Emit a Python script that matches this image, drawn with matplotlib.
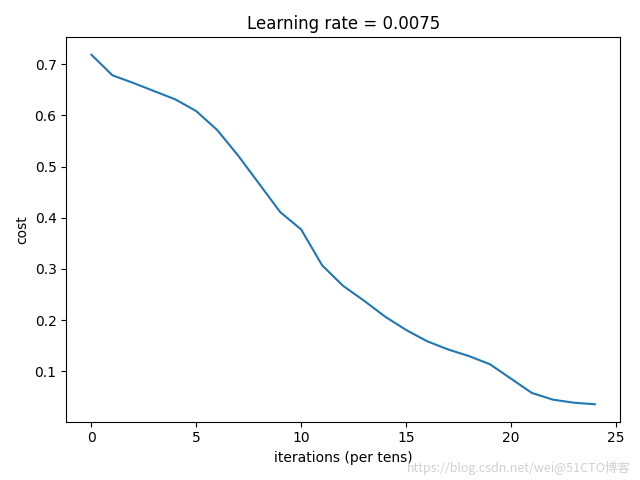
import matplotlib
matplotlib.use("Agg")
import matplotlib.pyplot as plt
import numpy as np

iterations = list(range(25))
costs = [0.718, 0.678, 0.663, 0.647, 0.631, 0.608, 0.571, 0.521, 0.466, 0.411,
         0.377, 0.307, 0.267, 0.238, 0.207, 0.181, 0.159, 0.143, 0.130, 0.114,
         0.086, 0.058, 0.045, 0.039, 0.036]
learning_rate = 0.0075

fig, ax = plt.subplots(figsize=(6.4, 4.8), dpi=100)
ax.plot(iterations, costs)
ax.set_ylabel('cost')
ax.set_xlabel('iterations (per tens)')
ax.set_title("Learning rate = " + str(learning_rate))
fig.tight_layout()

fig.text(0.985, 0.025, "https://blog.csdn.net/wei@51CTO博客", ha='right', va='center',
         fontsize=9, color='#d0d0d0', family=['Noto Sans CJK SC', 'DejaVu Sans'])

fig.savefig("out.png")
